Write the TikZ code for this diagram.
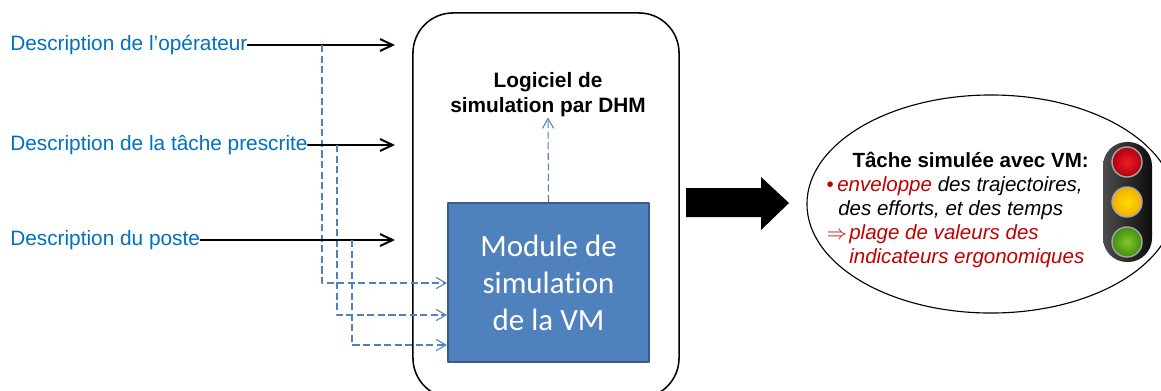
\documentclass[tikz,border=0pt]{standalone}
\usepackage{fontspec}
\setmainfont{Liberation Sans}
\newfontfamily\calibrifont[Ligatures={NoCommon,NoRare}]{Carlito}
\usetikzlibrary{arrows.meta,shapes.geometric}
\definecolor{descblue}{HTML}{0070C0}
\definecolor{vmblue}{HTML}{4F81BD}
\definecolor{vmborder}{HTML}{385D8A}
\definecolor{ergored}{HTML}{C00000}
\definecolor{redin}{HTML}{EE1C25}
\definecolor{redout}{HTML}{B0000F}
\definecolor{yellowin}{HTML}{FFDC00}
\definecolor{yellowout}{HTML}{F2AE00}
\definecolor{greenin}{HTML}{84C52A}
\definecolor{greenout}{HTML}{3F8E12}
\begin{document}
\begin{tikzpicture}[
	x=0.025cm,y=-0.025cm,
	line cap=round,
	line join=round,
	desc/.style={anchor=west,inner sep=0pt,text=descblue,font=\fontsize{14.8}{17.8}\selectfont},
	feed/.style={-{Straight Barb[length=9pt,width=8.5pt]},line width=1.4pt},
	vmdash/.style={-{Straight Barb[length=7pt,width=8pt]},vmblue,line width=0.75pt,line cap=butt,dash pattern=on 5pt off 2.5pt},
	ergo/.style={anchor=base west,inner sep=0pt,font=\fontsize{14.6}{17}\selectfont\itshape}
	]
	\useasboundingbox (0,0) rectangle (1161,390);
	% inputs
	\node[desc] (oper) at (10,45) {Description de l’opérateur};
	\node[desc] (tache) at (10,145) {Description de la tâche prescrite};
	\node[desc] (poste) at (10,240) {Description du poste};
	% DHM software
	\node[draw,line width=1.1pt,rounded corners=1cm,minimum width=6.65cm,minimum height=9.625cm] (dhm) at (546,205.5) {};
	\node[inner sep=0pt,align=center,font=\bfseries\fontsize{14.8}{17.8}\selectfont] (logiciel) at (548,95) {Logiciel de\\simulation par DHM};
	\node[draw=vmborder,fill=vmblue,line width=1.4pt,minimum width=5.025cm,minimum height=3.975cm,text=white,align=center,font=\calibrifont\fontsize{22}{26.3}\selectfont] (vm) at (548.5,282.5) {Module de\\simulation\\de la VM};
	\coordinate (inend) at (395,0);
	\coordinate (d1) at (322,283);
	\coordinate (d2) at (337,315);
	\coordinate (d3) at (352,345);
	\foreach \src/\turn in {oper/d1,tache/d2,poste/d3}{
		\draw[feed] (\src.east) -- (\src.east -| inend);
		\draw[vmdash] (\src.east -| \turn) |- (\turn -| vm.west);
	}
	\draw[vmdash] (vm.north) -- (logiciel.south);
	% big arrow
	\fill (686,188) -- (761,188) -- (761,177) -- (789,203) -- (761,230) -- (761,217) -- (686,217) -- cycle;
	% result
	\node[draw,ellipse,line width=0.8pt,inner sep=0pt,minimum width=9.2cm,minimum height=5.45cm] (result) at (991,204) {};
	\node[anchor=base east,inner sep=0pt,font=\bfseries\fontsize{14.6}{17}\selectfont] (title) at (1089,167) {Tâche simulée avec VM:};
	\node[ergo] (traj) at (837,191) {\llap{\upshape\color{ergored}•\hspace{2.5pt}}{\color{ergored}enveloppe} des trajectoires,};
	\node[ergo] (efforts) at (838,215) {des efforts, et des temps};
	\node[ergo,text=ergored] (plage) at (849,239) {\llap{$\Rightarrow$\hspace{1.5pt}}plage de valeurs des};
	\node[ergo,text=ergored] (indic) at (849,263) {indicateurs ergonomiques};
	% traffic light
	\node[rounded corners=0.6cm,left color=black!70,right color=black!95,minimum width=1.225cm,minimum height=3cm] (signal) at (1127.5,202) {};
	\foreach \lamp/\ly in {red/162,yellow/202,green/242}
		\node[circle,minimum size=0.75cm,inner color=\lamp in,outer color=\lamp out,draw=gray!70,line width=1pt] (lamp\lamp) at (1127,\ly) {};
\end{tikzpicture}
\end{document}
